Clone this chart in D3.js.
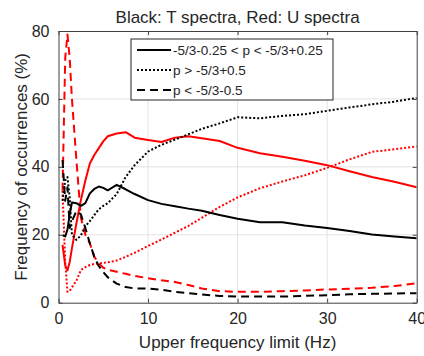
<!DOCTYPE html>
<html>
<head>
<meta charset="utf-8">
<script src="https://cdn.jsdelivr.net/npm/d3@7"></script>
<style>
  body { margin: 0; background: #fff; }
  svg text { font-family: "Liberation Sans", Arial, Helvetica, sans-serif; fill: #262626; }
</style>
</head>
<body>
<div id="chart"></div>
<script>
// upper frequency limit (Hz), shared by all six curves
const freqHz = [0.45, 0.75, 1, 1.25, 1.5, 2, 2.5, 3, 3.5, 4, 4.5, 5, 5.5, 6.5, 7.5, 8.5,
  10, 11.5, 13, 14.5, 16, 18, 20, 22.5, 25, 27.5, 30, 32.5, 35, 37.5, 40];

// T spectra (black)
const tMid = [19.9, 19.5, 21.5, 26, 29.5, 29.3, 28.5, 29.3, 32.2, 33.5, 34.2, 33.8, 33.1, 34.7, 33.4, 32,
  30.2, 29.1, 28.4, 27.7, 27.1, 25.8, 24.7, 23.7, 23.7, 22.7, 22, 21.1, 20.1, 19.5, 19.0];
const tSteep = [30, 36, 37, 31, 20, 18.5, 19.8, 22.5, 24, 25.8, 27.5, 28.5, 29.3, 32, 37, 40.5,
  44.5, 46.5, 48, 49.6, 51.2, 52.8, 54.6, 54.3, 55, 55.5, 56.5, 57.5, 58.4, 59.2, 60.3];
const tFlat = [42, 30, 34, 22, 24, 27, 26, 22, 17.5, 13.5, 10.8, 9, 7.5, 5.6, 4.6, 4.2,
  4.2, 3.8, 3.2, 2.8, 2.4, 2.0, 1.8, 1.8, 1.8, 2.0, 2.2, 2.5, 2.6, 2.7, 2.8];

// U spectra (red)
const uMid = [17, 11, 9.5, 12, 16, 23.4, 30.2, 36, 41, 43.5, 45.5, 47.5, 49, 49.8, 50.2, 48.6,
  47.9, 47.3, 48.6, 49, 48.4, 47.6, 45.6, 44, 43, 41.8, 40.5, 38.7, 37, 35.6, 34];
const uSteep = [33, 12, 3.2, 3.5, 4.5, 6.5, 9.6, 10.5, 11.1, 11.4, 11.6, 11.7, 11.9, 12.4, 13.5, 14.7,
  16.7, 18.6, 20.6, 22.6, 25, 28.2, 31, 33.7, 35.7, 37.5, 39.7, 42.2, 44.4, 45.2, 46];
const uFlat = [33, 72, 79, 72, 60, 42, 25, 20, 17.5, 13.5, 11.6, 10.3, 9.7, 9.1, 8.5, 7.9,
  7.2, 6.6, 6.1, 5.2, 4.2, 3.4, 3.2, 3.2, 3.4, 3.6, 3.9, 4.1, 4.4, 4.9, 5.7];

const xTicks = [0, 10, 20, 30, 40];
const yTicks = [0, 20, 40, 60, 80];
const legendLabels = ['-5/3-0.25 < p < -5/3+0.25', 'p > -5/3+0.5', 'p < -5/3-0.5'];

const width = 424;
const height = 356;
const plot = { left: 58.5, right: 416.7, top: 31, bottom: 302.7 };

// line style per band: solid, dotted, dashed
const dashes = [null, '2,2', '8,5'];

const x = d3.scaleLinear().domain([0, 40]).range([plot.left, plot.right]);
const y = d3.scaleLinear().domain([0, 80]).range([plot.bottom, plot.top]);

const svg = d3.select('#chart')
  .append('svg')
  .attr('width', width)
  .attr('height', height);

svg.append('defs').append('clipPath')
  .attr('id', 'clip')
  .append('rect')
  .attr('x', plot.left)
  .attr('y', plot.top)
  .attr('width', plot.right - plot.left)
  .attr('height', plot.bottom - plot.top);

// grid
const grid = svg.append('g').attr('stroke', '#e3e3e3').attr('stroke-width', 1);
grid.selectAll('line.gx')
  .data(xTicks.slice(1, -1))
  .enter().append('line')
  .attr('x1', d => x(d)).attr('x2', d => x(d))
  .attr('y1', plot.top).attr('y2', plot.bottom);
grid.selectAll('line.gy')
  .data(yTicks.slice(1, -1))
  .enter().append('line')
  .attr('x1', plot.left).attr('x2', plot.right)
  .attr('y1', d => y(d)).attr('y2', d => y(d));

// curves
const line = d3.line()
  .x((d, i) => x(freqHz[i]))
  .y(d => y(d));

const series = [
  { values: uMid, color: '#ff0000', dash: dashes[0] },
  { values: uSteep, color: '#ff0000', dash: dashes[1] },
  { values: uFlat, color: '#ff0000', dash: dashes[2] },
  { values: tMid, color: '#000000', dash: dashes[0] },
  { values: tSteep, color: '#000000', dash: dashes[1] },
  { values: tFlat, color: '#000000', dash: dashes[2] }
];

svg.append('g')
  .attr('clip-path', 'url(#clip)')
  .selectAll('path')
  .data(series)
  .enter().append('path')
  .attr('fill', 'none')
  .attr('stroke', d => d.color)
  .attr('stroke-width', 2)
  .attr('stroke-dasharray', d => d.dash)
  .attr('stroke-linejoin', 'round')
  .attr('d', d => line(d.values));

// axes box with inward ticks on all sides
const axisColor = '#404040';
const axisBottom = d3.axisBottom(x).tickValues(xTicks).tickSizeInner(-4).tickSizeOuter(0).tickPadding(10);
const axisLeft = d3.axisLeft(y).tickValues(yTicks).tickSizeInner(-4).tickSizeOuter(0).tickPadding(9);
const axisTop = d3.axisTop(x).tickValues(xTicks).tickSizeInner(-4).tickSizeOuter(0).tickFormat('');
const axisRight = d3.axisRight(y).tickValues(yTicks).tickSizeInner(-4).tickSizeOuter(0).tickFormat('');

function styleAxis(g) {
  g.select('.domain').attr('stroke', axisColor);
  g.selectAll('.tick line').attr('stroke', axisColor);
  g.selectAll('.tick text')
    .attr('fill', '#262626')
    .style('font-size', '16px')
    .style('font-family', '"Liberation Sans", Arial, sans-serif');
}

svg.append('g').attr('transform', `translate(0,${plot.bottom})`).call(axisBottom).call(styleAxis);
svg.append('g').attr('transform', `translate(${plot.left},0)`).call(axisLeft).call(styleAxis);
svg.append('g').attr('transform', `translate(0,${plot.top})`).call(axisTop).call(styleAxis);
svg.append('g').attr('transform', `translate(${plot.right},0)`).call(axisRight).call(styleAxis);

// title and axis labels
svg.append('text')
  .attr('x', (plot.left + plot.right) / 2)
  .attr('y', 23)
  .attr('text-anchor', 'middle')
  .style('font-size', '17px')
  .text('Black: T spectra, Red: U spectra');

svg.append('text')
  .attr('x', (plot.left + plot.right) / 2)
  .attr('y', 348)
  .attr('text-anchor', 'middle')
  .style('font-size', '17px')
  .text('Upper frequency limit (Hz)');

svg.append('text')
  .attr('transform', `translate(27,${(plot.top + plot.bottom) / 2}) rotate(-90)`)
  .attr('text-anchor', 'middle')
  .style('font-size', '17px')
  .text('Frequency of occurrences (%)');

// legend
const legend = svg.append('g').attr('transform', 'translate(131,39)');
legend.append('rect')
  .attr('width', 202)
  .attr('height', 61)
  .attr('fill', '#fff')
  .attr('stroke', '#262626')
  .attr('stroke-width', 1);

const rows = legend.selectAll('g.row')
  .data(legendLabels)
  .enter().append('g')
  .attr('transform', (d, i) => `translate(0,${11 + i * 20})`);

rows.append('line')
  .attr('x1', 6).attr('x2', 40)
  .attr('stroke', '#000')
  .attr('stroke-width', 2)
  .attr('stroke-dasharray', (d, i) => dashes[i]);

rows.append('text')
  .attr('x', 42)
  .attr('dy', '0.35em')
  .style('font-size', '13.5px')
  .text(d => d);
</script>
</body>
</html>
